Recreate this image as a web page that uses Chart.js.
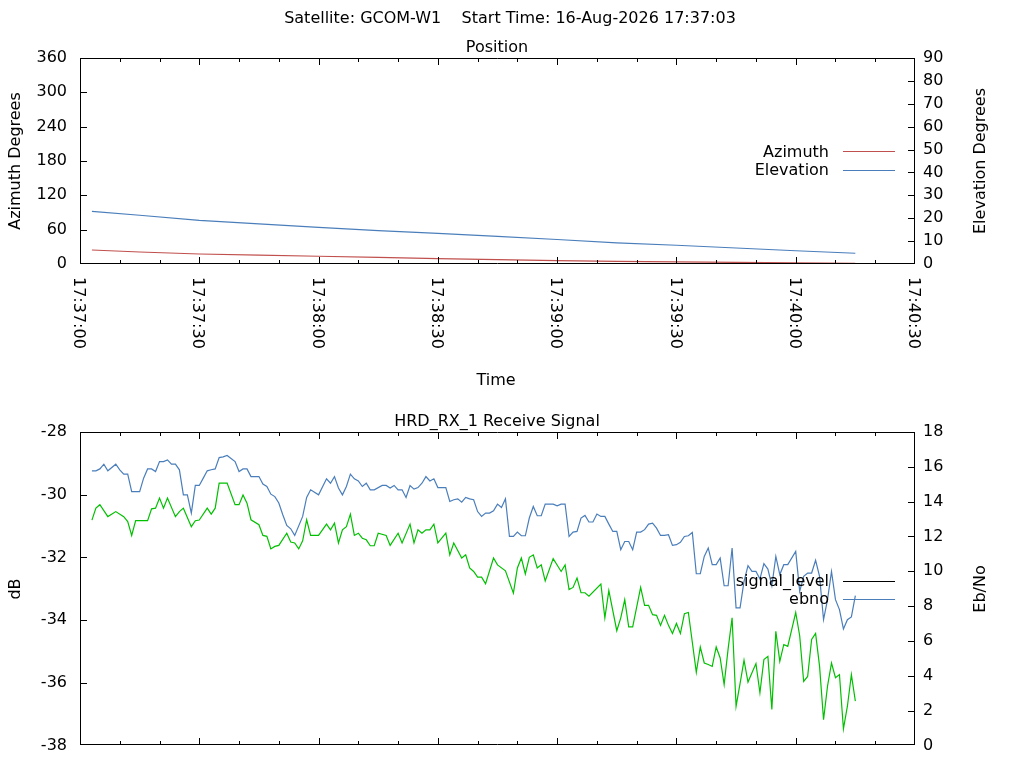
<!DOCTYPE html>
<html><head><meta charset="utf-8">
<script src="https://cdn.jsdelivr.net/npm/chart.js@4.4.1/dist/chart.umd.min.js"></script>
<style>
html,body{margin:0;padding:0;background:#fff;}
#wrap{position:relative;width:1024px;height:768px;overflow:hidden;background:#fff;}
canvas{position:absolute;left:0;}
#c1{top:0;}
#c2{top:400px;}
</style></head><body>
<div id="wrap"><canvas id="c1" width="1024" height="400"></canvas><canvas id="c2" width="1024" height="368"></canvas></div>
<script>
// ---------- texts ----------
const mainTitle = 'Satellite: GCOM-W1    Start Time: 16-Aug-2026 17:37:03';
const posTitle = 'Position';
const sigTitle = 'HRD_RX_1 Receive Signal';
const timeAxisTitle = 'Time';
const azAxisTitle = 'Azimuth Degrees';
const elAxisTitle = 'Elevation Degrees';
const dbAxisTitle = 'dB';
const ebAxisTitle = 'Eb/No';
const timeTickLabels = ['17:37:00','17:37:30','17:38:00','17:38:30','17:39:00','17:39:30','17:40:00','17:40:30'];

// ---------- position data (seconds after 17:37:00) ----------
const posTimes  = [3, 15, 30, 45, 60, 75, 90, 105, 120, 135, 150, 165, 180, 195];
const azimuth   = [24.5, 21, 17.5, 15.5, 13.5, 11.5, 9.5, 7.5, 6, 4.6, 3.8, 3, 2, 1.2];
const elevation = [23, 21.3, 19.1, 17.5, 16, 14.6, 13.4, 12.1, 10.7, 9.2, 8.2, 7, 5.8, 4.7];

// ---------- receive signal data ----------
const sigTimes = [3,4,5,7,9,11,12,13,14,17,
 18,19,20,21,22,24,25,26,28,29,
 30,32,33,34,35,37,39,40,41,42,
 43,45,46,47,48,49,50,52,53,54,
 55,56,57,58,60,62,63,64,65,66,
 67,68,69,70,71,72,73,74,75,77,
 78,80,81,83,84,85,86,87,88,89,
 90,92,93,94,96,97,98,99,100,101,
 102,104,105,107,109,110,111,112,113,114,
 115,116,117,119,121,122,123,124,125,126,
 127,128,131,132,133,135,136,137,138,139,
 141,142,143,144,145,146,147,148,149,150,
 151,152,153,155,156,157,158,159,160,161,
 162,163,164,165,166,167,168,169,170,171,
 172,173,174,175,176,177,178,180,181,182,
 183,184,185,186,187,188,189,190,191,192,
 193,194,195];
const signalLevel = [-30.81,-30.43,-30.32,-30.70,-30.54,-30.70,-30.86,-31.30,-30.83,-30.83,
 -30.45,-30.43,-30.11,-30.43,-30.11,-30.70,-30.54,-30.43,-31.02,-30.83,
 -30.81,-30.43,-30.62,-30.43,-29.63,-29.63,-30.32,-30.32,-30.01,-30.27,
 -30.80,-30.96,-31.30,-31.33,-31.73,-31.65,-31.62,-31.23,-31.51,-31.54,
 -31.73,-31.47,-30.80,-31.30,-31.30,-30.94,-31.12,-30.91,-31.54,-31.12,
 -31.02,-30.62,-31.30,-31.23,-31.39,-31.44,-31.63,-31.63,-31.23,-31.30,
 -31.62,-31.23,-31.54,-30.94,-31.54,-31.12,-31.23,-31.12,-31.12,-30.94,
 -31.54,-31.23,-31.92,-31.54,-32.02,-31.92,-32.34,-32.45,-32.63,-32.63,
 -32.84,-32.02,-32.24,-32.43,-33.14,-32.34,-32.02,-32.53,-32.00,-31.92,
 -32.34,-32.24,-32.75,-32.04,-32.45,-32.24,-33.03,-32.96,-32.66,-33.13,
 -33.13,-33.24,-32.85,-33.93,-33.06,-34.34,-33.93,-33.35,-34.22,-34.22,
 -32.96,-33.53,-33.53,-33.83,-33.85,-34.17,-33.85,-34.17,-34.43,-34.11,
 -34.43,-33.80,-33.76,-35.67,-34.86,-35.37,-35.42,-35.48,-34.86,-35.21,
 -36.06,-34.92,-33.93,-36.75,-36.03,-35.28,-35.98,-35.68,-35.39,-36.32,
 -35.26,-35.16,-36.85,-34.36,-35.32,-34.78,-34.84,-33.76,-34.50,-35.96,
 -35.80,-34.62,-34.43,-35.48,-37.18,-36.11,-35.37,-35.84,-35.74,-37.47,
 -36.75,-35.74,-36.59];
const ebnoTimes = [3,4,5,6,7,9,10,11,12,13,
 15,16,17,18,19,20,21,22,23,24,
 25,26,27,28,29,30,31,32,33,34,
 35,36,37,39,40,41,42,43,45,46,
 47,48,49,50,51,52,53,54,56,57,
 58,60,62,63,64,65,66,67,68,69,
 70,71,72,73,74,76,77,78,79,80,
 81,82,83,84,85,86,87,88,89,90,
 92,93,94,95,96,97,98,99,100,101,
 102,103,104,105,106,107,108,109,110,111,
 112,113,114,115,116,117,119,120,121,122,
 123,124,125,126,127,128,129,130,131,132,
 133,134,135,136,137,138,139,140,141,142,
 143,144,145,146,147,148,149,150,151,152,
 153,154,155,156,157,158,159,160,161,162,
 163,164,165,166,167,168,169,170,171,172,
 173,174,175,176,177,178,180,181,182,183,
 184,185,186,187,188,189,190,191,192,193,
 194,195];
const ebno = [15.77,15.77,15.88,16.15,15.77,16.15,15.83,15.58,15.58,14.58,
 14.58,15.35,15.88,15.88,15.73,16.30,16.30,16.40,16.15,16.15,
 15.83,14.39,14.39,13.34,14.93,14.93,15.35,15.77,15.83,15.88,
 16.53,16.57,16.65,16.30,15.73,15.88,15.88,15.44,15.44,15.01,
 14.87,14.43,14.29,13.92,13.25,12.63,12.44,12.06,13.15,14.24,
 14.68,14.39,15.31,15.06,15.44,14.78,14.39,14.87,15.58,15.31,
 15.19,14.87,15.06,14.68,14.68,14.93,14.93,14.78,14.93,14.68,
 14.68,14.24,14.93,14.72,14.81,15.06,15.44,15.19,15.31,14.81,
 14.81,14.01,14.11,14.16,13.97,14.24,14.16,14.11,13.43,13.15,
 13.34,13.34,13.47,13.86,13.66,14.16,12.00,12.00,12.25,12.04,
 12.04,13.06,13.72,13.19,13.19,13.86,13.86,13.76,13.86,13.86,
 12.00,12.25,12.29,13.06,13.21,12.83,12.83,13.29,13.15,13.15,
 12.71,12.29,12.29,11.24,11.71,11.71,11.24,12.25,12.25,12.39,
 12.71,12.77,12.48,12.06,12.06,12.10,11.49,11.53,11.66,12.00,
 12.04,12.23,9.86,9.86,10.85,11.34,10.38,10.38,10.76,9.17,
 9.17,11.34,7.90,7.90,9.42,10.32,9.99,9.99,9.56,10.44,
 10.13,9.17,10.85,9.81,10.38,10.38,11.14,8.85,9.71,9.90,
 9.90,10.63,9.71,7.22,8.37,9.99,8.37,7.80,6.69,7.22,
 7.38,8.60];

// ---------- styling ----------
const FONT = '16px "DejaVu Sans"';
const COL_RED = '#c0504d', COL_BLUE = '#4a7ebb', COL_GREEN = '#00c000';
const LINE_W = 1.2;
Chart.defaults.font.family = '"DejaVu Sans"';
Chart.defaults.font.size = 16;
Chart.defaults.color = '#000';

const toXY = (xs, ys) => xs.map((x, i) => ({x, y: ys[i]}));

function drawText(ctx, s, x, y, align, rot) {
  ctx.save();
  ctx.translate(x, y);
  if (rot) ctx.rotate(rot);
  ctx.font = FONT; ctx.fillStyle = '#000';
  ctx.textAlign = align || 'center'; ctx.textBaseline = 'alphabetic';
  ctx.fillText(s, 0, 0);
  ctx.restore();
}

function makeFrame(opt) {
  return {
    id: 'frame',
    afterDatasetsDraw(chart) {
      const ctx = chart.ctx, a = chart.chartArea;
      const L = Math.round(a.left), R = Math.round(a.right), T = Math.round(a.top), B = Math.round(a.bottom);
      const clampX = v => Math.min(Math.max(v, L + 0.5), R - 0.5);
      const clampY = v => Math.min(Math.max(v, T + 0.5), B - 0.5);
      ctx.save();
      ctx.strokeStyle = '#000'; ctx.lineWidth = 1;
      ctx.beginPath();
      ctx.rect(L + 0.5, T + 0.5, R - L - 1, B - T - 1);
      // x ticks (inward, bottom and top)
      const xs = chart.scales.x;
      xs.ticks.forEach(t => {
        const px = clampX(Math.round(xs.getPixelForValue(t.value)) + 0.5);
        const len = (t.value % 30 === 0) ? 7 : 4;
        ctx.moveTo(px, B); ctx.lineTo(px, B - len);
        ctx.moveTo(px, T); ctx.lineTo(px, T + len);
      });
      const ys = chart.scales.y;
      ys.ticks.forEach(t => {
        const py = clampY(Math.round(ys.getPixelForValue(t.value)) + 0.5);
        ctx.moveTo(L, py); ctx.lineTo(L + 7, py);
      });
      const ys2 = chart.scales.y2;
      ys2.ticks.forEach(t => {
        const py = clampY(Math.round(ys2.getPixelForValue(t.value)) + 0.5);
        ctx.moveTo(R, py); ctx.lineTo(R - 7, py);
      });
      ctx.stroke();
      ctx.restore();

      // rotated time labels
      if (opt.timeLabels) {
        xs.ticks.forEach(t => {
          if (t.value % 30 !== 0) return;
          const lab = opt.timeLabels[t.value / 30];
          const px = xs.getPixelForValue(t.value);
          ctx.save();
          ctx.translate(px, B + 13);
          ctx.rotate(Math.PI / 2);
          ctx.font = FONT; ctx.fillStyle = '#000';
          ctx.textAlign = 'left'; ctx.textBaseline = 'alphabetic';
          ctx.fillText(lab, 0, 5.8);
          ctx.restore();
        });
      }
      // texts
      (opt.texts || []).forEach(t => drawText(ctx, t.s, t.x, t.y, t.align, t.rot));
      // legend
      (opt.legend || []).forEach(e => {
        drawText(ctx, chart.data.datasets[e.ds].label, 829, e.y, 'right');
        ctx.save();
        ctx.strokeStyle = e.color; ctx.lineWidth = 1;
        ctx.beginPath();
        ctx.moveTo(843, Math.round(e.y - 5.5) + 0.5); ctx.lineTo(895, Math.round(e.y - 5.5) + 0.5);
        ctx.stroke();
        ctx.restore();
      });
    }
  };
}

function axisOpts(pos, min, max, step, pad, width) {
  return {
    type: 'linear', position: pos, min, max,
    ticks: {stepSize: step, padding: pad, autoSkip: false, color: '#000', font: {family: '"DejaVu Sans"', size: 16}},
    grid: {display: false, drawTicks: false},
    border: {display: false},
    afterFit: s => { s.width = width; }
  };
}
function xOpts(h) {
  return {
    type: 'linear', position: 'bottom', min: 0, max: 210,
    ticks: {display: false, stepSize: 10},
    grid: {display: false, drawTicks: false},
    border: {display: false},
    afterFit: s => { s.height = h; }
  };
}
const common = {
  responsive: false, animation: false, devicePixelRatio: 1,
  plugins: {legend: {display: false}, tooltip: {enabled: false}, title: {display: false}},
  elements: {point: {radius: 0}, line: {borderWidth: LINE_W, tension: 0}}
};

// ---------- top chart: Position ----------
new Chart(document.getElementById('c1'), {
  type: 'line',
  data: {datasets: [
    {label: 'Azimuth', data: toXY(posTimes, azimuth), borderColor: COL_RED, yAxisID: 'y', borderWidth: LINE_W, pointRadius: 0},
    {label: 'Elevation', data: toXY(posTimes, elevation), borderColor: COL_BLUE, yAxisID: 'y2', borderWidth: LINE_W, pointRadius: 0}
  ]},
  options: Object.assign({}, common, {
    layout: {padding: {top: 58, left: 0, right: 0, bottom: 0}},
    scales: {
      x: xOpts(136),
      y: axisOpts('left', 0, 360, 60, 13, 80),
      y2: axisOpts('right', 0, 90, 10, 8, 109)
    }
  }),
  plugins: [makeFrame({
    timeLabels: timeTickLabels,
    texts: [
      {s: mainTitle, x: 510, y: 23.3},
      {s: posTitle, x: 497, y: 52},
      {s: timeAxisTitle, x: 496, y: 385},
      {s: azAxisTitle, x: 20, y: 161, rot: -Math.PI / 2},
      {s: elAxisTitle, x: 985, y: 161, rot: -Math.PI / 2}
    ],
    legend: [{ds: 0, y: 156.5, color: COL_RED}, {ds: 1, y: 175, color: COL_BLUE}]
  })]
});

// ---------- bottom chart: Receive Signal ----------
new Chart(document.getElementById('c2'), {
  type: 'line',
  data: {datasets: [
    {label: 'signal_level', data: toXY(sigTimes, signalLevel), borderColor: COL_GREEN, yAxisID: 'y', borderWidth: LINE_W, pointRadius: 0},
    {label: 'ebno', data: toXY(ebnoTimes, ebno), borderColor: COL_BLUE, yAxisID: 'y2', borderWidth: LINE_W, pointRadius: 0}
  ]},
  options: Object.assign({}, common, {
    layout: {padding: {top: 32, left: 0, right: 0, bottom: 0}},
    scales: {
      x: xOpts(22),
      y: axisOpts('left', -38, -28, 2, 13, 80),
      y2: axisOpts('right', 0, 18, 2, 8, 109)
    }
  }),
  plugins: [makeFrame({
    texts: [
      {s: sigTitle, x: 497, y: 26},
      {s: dbAxisTitle, x: 20, y: 189, rot: -Math.PI / 2},
      {s: ebAxisTitle, x: 985, y: 189, rot: -Math.PI / 2}
    ],
    legend: [{ds: 0, y: 186, color: '#000'}, {ds: 1, y: 204, color: COL_BLUE}]
  })]
});
</script>
</body></html>
